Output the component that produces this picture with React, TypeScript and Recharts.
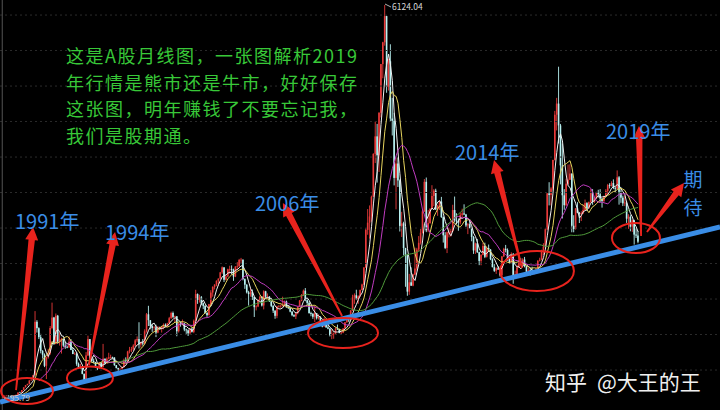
import { ComposedChart, Bar, Line, XAxis, YAxis, ReferenceLine, ReferenceDot } from "recharts";

// SSE composite, monthly, Dec 1990 .. Dec 2018 (index 0 = Dec 1990)
const FIRST_OPEN = 96.05;

const CLOSE = [
  127.6,
  129.9, 133, 120, 113.9, 114.8, 137.6, 145, 180.9, 180.7, 218, 259.6, 292.8,
  313, 365, 378, 445, 1265, 1167, 1030, 820, 760, 590, 720, 780,
  1170, 1330, 926, 1358, 960, 1000, 1000, 900, 880, 870, 960, 833,
  770, 776, 620, 560, 580, 467, 333, 750, 1000, 700, 666, 648,
  563, 550, 640, 570, 700, 630, 700, 720, 720, 717, 600, 555,
  537, 540, 570, 680, 660, 810, 830, 845, 900, 980, 1000, 917,
  950, 930, 1120, 1380, 1290, 1200, 1170, 1180, 1100, 1180, 1160, 1194,
  1220, 1200, 1240, 1320, 1400, 1340, 1350, 1120, 1240, 1220, 1240, 1146,
  1135, 1090, 1160, 1110, 1280, 1690, 1600, 1640, 1550, 1510, 1400, 1367,
  1535, 1714, 1800, 1836, 1894, 1928, 2023, 2100, 1910, 1961, 2070, 2073,
  2066, 1959, 2112, 2119, 2214, 2218, 1920, 1834, 1717, 1690, 1720, 1646,
  1490, 1500, 1600, 1650, 1515, 1732, 1650, 1650, 1580, 1509, 1437, 1357,
  1500, 1510, 1511, 1520, 1576, 1487, 1476, 1421, 1367, 1348, 1397, 1497,
  1590, 1675, 1741, 1595, 1555, 1399, 1386, 1342, 1396, 1320, 1340, 1266,
  1191, 1306, 1181, 1159, 1060, 1080, 1083, 1162, 1155, 1092, 1099, 1161,
  1258, 1299, 1298, 1440, 1641, 1672, 1612, 1658, 1752, 1837, 2099, 2675,
  2786, 2881, 3183, 3841, 4109, 3820, 4471, 5218, 5552, 5954, 4871, 5261,
  4383, 4348, 3472, 3693, 3433, 2736, 2775, 2397, 2293, 1728, 1871, 1820,
  1990, 2082, 2373, 2477, 2632, 2959, 3412, 2667, 2779, 2995, 3195, 3277,
  2989, 3051, 3109, 2870, 2592, 2398, 2638, 2638, 2655, 2979, 2820, 2808,
  2790, 2905, 2928, 2911, 2743, 2762, 2701, 2567, 2359, 2468, 2333, 2199,
  2292, 2428, 2262, 2396, 2372, 2225, 2103, 2047, 2086, 2068, 1980, 2269,
  2385, 2365, 2236, 2177, 2300, 1979, 1994, 2098, 2174, 2141, 2220, 2116,
  2033, 2056, 2033, 2026, 2039, 2048, 2201, 2217, 2364, 2420, 2683, 3235,
  3210, 3310, 3748, 4441, 4612, 4277, 3664, 3206, 3053, 3383, 3445, 3539,
  2738, 2688, 3004, 2938, 2917, 2930, 2979, 3085, 3005, 3100, 3250, 3104,
  3159, 3242, 3223, 3155, 3117, 3192, 3273, 3361, 3349, 3393, 3317, 3307,
  3481, 3259, 3169, 3082, 3095, 2847, 2876, 2725, 2821, 2603, 2588, 2494,
];

const HIGH = [
  127.6,
  135, 134.9, 134, 120, 115, 137.6, 146, 181, 191, 218, 260, 292.8,
  313, 368, 380, 450, 1429, 1290, 1180, 1080, 830, 780, 730, 850,
  1200, 1559, 1340, 1392, 1370, 1100, 1020, 1000, 960, 900, 1040, 1000,
  870, 800, 800, 640, 620, 590, 470, 800, 1052, 1000, 740, 700,
  650, 570, 650, 640, 926, 700, 720, 790, 760, 730, 720, 600,
  560, 560, 580, 700, 720, 820, 880, 880, 920, 1000, 1040, 1258,
  960, 1000, 1150, 1400, 1510, 1290, 1230, 1200, 1220, 1200, 1190, 1200,
  1240, 1240, 1250, 1340, 1420, 1422, 1360, 1350, 1260, 1260, 1300, 1250,
  1160, 1150, 1170, 1180, 1300, 1756, 1700, 1680, 1660, 1560, 1520, 1420,
  1540, 1750, 1810, 1840, 1900, 1930, 2030, 2114, 2100, 1980, 2080, 2125,
  2130, 2080, 2120, 2180, 2230, 2245, 2220, 1930, 1840, 1740, 1780, 1760,
  1650, 1520, 1610, 1670, 1660, 1748, 1740, 1700, 1660, 1580, 1520, 1440,
  1510, 1520, 1530, 1650, 1590, 1590, 1520, 1480, 1430, 1380, 1400, 1500,
  1600, 1690, 1760, 1783, 1610, 1580, 1420, 1400, 1510, 1400, 1380, 1350,
  1270, 1330, 1310, 1250, 1170, 1150, 1100, 1180, 1223, 1160, 1110, 1170,
  1260, 1300, 1310, 1445, 1680, 1700, 1757, 1670, 1760, 1850, 2100, 2700,
  2994, 3050, 3200, 3850, 4335, 4300, 4480, 5220, 5560, 6124, 5960, 5300,
  5522, 4700, 4470, 3786, 3786, 3450, 2952, 2800, 2400, 2300, 2000, 2100,
  2000, 2402, 2400, 2580, 2690, 2980, 3455, 3478, 2980, 3010, 3360, 3300,
  3306, 3060, 3120, 3181, 2880, 2640, 2650, 2710, 2690, 3060, 3186, 2930,
  2850, 2940, 3000, 3067, 2920, 2780, 2830, 2710, 2580, 2480, 2536, 2340,
  2300, 2478, 2478, 2420, 2450, 2380, 2240, 2150, 2100, 2120, 2090, 2270,
  2400, 2444, 2390, 2260, 2330, 2320, 2050, 2140, 2270, 2240, 2240, 2260,
  2120, 2100, 2100, 2110, 2060, 2090, 2210, 2248, 2370, 2470, 2700, 3240,
  3406, 3330, 3750, 4500, 4700, 5178, 4300, 4000, 3300, 3460, 3678, 3680,
  3540, 2900, 3010, 3100, 2950, 2960, 3060, 3140, 3100, 3110, 3300, 3300,
  3180, 3260, 3290, 3300, 3160, 3200, 3300, 3380, 3390, 3420, 3450, 3340,
  3587, 3500, 3330, 3200, 3200, 3120, 2915, 2900, 2830, 2830, 2700, 2660,
];

const LOW = [
  95.8,
  127, 129, 120, 113.5, 105, 110, 135, 144, 178, 180, 218, 259,
  292, 312, 364, 376, 440, 1100, 1000, 781, 700, 570, 387, 700,
  760, 1150, 910, 920, 930, 900, 777, 880, 850, 860, 870, 830,
  770, 760, 590, 540, 540, 460, 326, 330, 740, 680, 640, 630,
  560, 524, 540, 560, 570, 610, 620, 690, 700, 700, 590, 550,
  512, 530, 530, 560, 640, 650, 780, 800, 820, 880, 950, 855,
  870, 900, 920, 1100, 1200, 1150, 1110, 1130, 1030, 1090, 1140, 1100,
  1150, 1180, 1190, 1230, 1310, 1320, 1260, 1043, 1100, 1190, 1210, 1120,
  1080, 1047, 1070, 1100, 1090, 1270, 1540, 1560, 1520, 1460, 1390, 1341,
  1361, 1520, 1650, 1760, 1810, 1820, 1920, 2000, 1875, 1900, 1950, 2000,
  1990, 1893, 1950, 2060, 2100, 2150, 1900, 1770, 1700, 1514, 1650, 1600,
  1339, 1440, 1490, 1580, 1500, 1455, 1620, 1620, 1570, 1490, 1400, 1311,
  1320, 1480, 1480, 1500, 1500, 1480, 1460, 1410, 1350, 1340, 1307, 1380,
  1490, 1580, 1660, 1580, 1520, 1390, 1350, 1310, 1260, 1300, 1300, 1260,
  1180, 1190, 1170, 1150, 1040, 998, 1005, 1080, 1140, 1090, 1070, 1090,
  1160, 1250, 1260, 1290, 1430, 1540, 1600, 1540, 1650, 1750, 1830, 2090,
  2600, 2541, 2800, 3180, 3700, 3400, 3563, 4400, 5000, 5500, 4778, 4812,
  4330, 4123, 3357, 2990, 3333, 2650, 2566, 2284, 1802, 1664, 1678, 1814,
  1810, 1980, 2050, 2350, 2450, 2620, 2950, 2640, 2640, 2770, 2990, 3040,
  2980, 2890, 2980, 2860, 2480, 2380, 2319, 2560, 2570, 2650, 2790, 2760,
  2661, 2760, 2860, 2900, 2720, 2610, 2700, 2500, 2307, 2307, 2320, 2134,
  2132, 2285, 2242, 2250, 2340, 2210, 2100, 2030, 2000, 2060, 1959, 1949,
  2260, 2330, 2200, 2160, 2170, 1849, 1950, 1990, 2090, 2130, 2100, 2100,
  1984, 2020, 1974, 2010, 1991, 2000, 2040, 2190, 2210, 2290, 2400, 2670,
  3050, 3050, 3280, 3740, 4200, 4000, 3373, 2850, 2983, 3040, 3370, 3440,
  2638, 2638, 2680, 2930, 2780, 2810, 2920, 2970, 2970, 3000, 3090, 3060,
  3090, 3150, 3170, 3100, 3016, 3100, 3180, 3220, 3310, 3340, 3300, 3250,
  3300, 3062, 3090, 3040, 3040, 2782, 2691, 2653, 2644, 2449, 2550, 2470,
];

const MA_PERIODS = [5, 10, 20, 60];
const MA_COLORS = ["#f0f0f0", "#e6d45e", "#c03cc0", "#4f9a3a"];

const GRID_VALUES = [525, 1070, 1614, 2159, 2703, 3248, 3792, 4337, 4881, 5426, 5970];

// annotations in data space (month index, index level)
const TREND = [{ x: -1.6, y: 35 }, { x: 379.4, y: 2719 }];
const ARROWS = [
  { tail: { x: 6.9, y: 218 }, head: { x: 15.9, y: 2719 } },
  { tail: { x: 45.5, y: 602 }, head: { x: 59.3, y: 2642 } },
  { tail: { x: 179.4, y: 1354 }, head: { x: 148.1, y: 3087 } },
  { tail: { x: 274.6, y: 2090 }, head: { x: 259.8, y: 3747 } },
  { tail: { x: 337.6, y: 2581 }, head: { x: 336.5, y: 4268 } },
  { tail: { x: 340.7, y: 2642 }, head: { x: 360.3, y: 3394 } },
];
const RINGS = [
  { x: 12.7, y: 203 },
  { x: 46, y: 403 },
  { x: 179.9, y: 1093 },
  { x: 282.5, y: 2044 },
  { x: 334.9, y: 2550 },
];
const RING_RADII = [[26, 13], [23, 11.5], [35, 15], [37, 20], [24, 15]];

const UP = "#e83a3a";
const DOWN = "#b8f2f2";
const RED = "#e8231d";
const BLUE = "#3a8de6";
const FONT = '"Noto Sans CJK SC", "Noto Sans", sans-serif';

const movingAvg = (n: number) =>
  CLOSE.map((_, i) => {
    if (i < n - 1) return null;
    let s = 0;
    for (let k = i - n + 1; k <= i; k++) s += CLOSE[k];
    return s / n;
  });

const MAS = MA_PERIODS.map(movingAvg);

const data = CLOSE.map((close, i) => {
  const row: any = {
    i,
    open: i === 0 ? FIRST_OPEN : CLOSE[i - 1],
    close,
    high: HIGH[i],
    low: LOW[i],
    range: [LOW[i], HIGH[i]],
  };
  MA_PERIODS.forEach((n, k) => (row["ma" + n] = MAS[k][i]));
  return row;
});

function Candle(props: any) {
  const { x, y, width, height, payload } = props;
  if (!payload) return null;
  const top = Math.min(y, y + height);
  const bot = Math.max(y, y + height);
  const span = payload.high - payload.low;
  const k = span > 0 ? (bot - top) / span : 0;
  const cx = x + width / 2;
  const yo = top + (payload.high - payload.open) * k;
  const yc = top + (payload.high - payload.close) * k;
  const color = payload.close >= payload.open ? UP : DOWN;
  return (
    <g>
      <line x1={cx} x2={cx} y1={top} y2={bot} stroke={color} strokeWidth={0.9} />
      <rect x={cx - 0.8} y={Math.min(yo, yc)} width={1.6} height={Math.max(Math.abs(yc - yo), 0.7)} fill={color} />
    </g>
  );
}

function arrowShape(p: any) {
  const { x1, y1, x2, y2 } = p;
  const dx = x2 - x1, dy = y2 - y1;
  const len = Math.hypot(dx, dy) || 1;
  const ux = dx / len, uy = dy / len, nx = -uy, ny = ux;
  const headLen = 13, headW = 6.5, shaftW = 3.2, tailW = 0.9;
  const bx = x2 - ux * headLen, by = y2 - uy * headLen;
  const pts = [
    [x1 + nx * tailW, y1 + ny * tailW],
    [bx + nx * shaftW, by + ny * shaftW],
    [bx + nx * headW, by + ny * headW],
    [x2, y2],
    [bx - nx * headW, by - ny * headW],
    [bx - nx * shaftW, by - ny * shaftW],
    [x1 - nx * tailW, y1 - ny * tailW],
  ];
  return <polygon points={pts.map((q) => q.join(",")).join(" ")} fill={RED} />;
}

const ringShape = (rx: number, ry: number) => (p: any) =>
  <ellipse cx={p.cx} cy={p.cy} rx={rx} ry={ry} fill="none" stroke={RED} strokeWidth={2} />;

const NOTE = [
  "这是A股月线图，一张图解析2019",
  "年行情是熊市还是牛市，好好保存",
  "这张图，明年赚钱了不要忘记我，",
  "我们是股期通。",
];

const YEAR_LABELS = [
  { t: "1991年", x: 15, y: 229, s: 20 },
  { t: "1994年", x: 105, y: 240, s: 20 },
  { t: "2006年", x: 255, y: 211, s: 20 },
  { t: "2014年", x: 455, y: 160, s: 20 },
  { t: "2019年", x: 606, y: 139, s: 20 },
  { t: "期", x: 683.5, y: 187, s: 19 },
  { t: "待", x: 683.5, y: 215, s: 19 },
];

export default function App() {
  return (
    <div style={{ position: "absolute", left: 0, top: 0, width: 720, height: 410, background: "#000", overflow: "hidden" }}>
      <ComposedChart width={720} height={410} data={data} margin={{ top: 0, right: 0, bottom: 0, left: 0 }}>
        <XAxis hide type="number" dataKey="i" domain={[-1.587, 379.36]} allowDataOverflow />
        <YAxis hide type="number" domain={[-88, 6201]} allowDataOverflow />
        {GRID_VALUES.map((v) => (
          <ReferenceLine key={v} y={v} stroke="#2a2a2a" strokeDasharray="2 3" />
        ))}
        <ReferenceLine x={-0.4} stroke="#555" />
        <Bar dataKey="range" barSize={2} isAnimationActive={false} shape={(p: any) => <Candle {...p} />} />
        {MA_PERIODS.map((n, k) => (
          <Line
            key={n}
            dataKey={"ma" + n}
            stroke={MA_COLORS[k]}
            strokeWidth={1}
            dot={false}
            activeDot={false}
            isAnimationActive={false}
          />
        ))}
        <ReferenceLine segment={TREND} ifOverflow="visible" stroke={BLUE} strokeWidth={5} />
        {RINGS.map((r, k) => (
          <ReferenceDot key={k} x={r.x} y={r.y} ifOverflow="visible" shape={ringShape(RING_RADII[k][0], RING_RADII[k][1])} />
        ))}
        {ARROWS.map((a, k) => (
          <ReferenceLine key={k} segment={[a.tail, a.head]} ifOverflow="visible" shape={arrowShape} />
        ))}
      </ComposedChart>
      <svg width={720} height={410} style={{ position: "absolute", left: 0, top: 0, pointerEvents: "none" }}>
        <g fontFamily={FONT}>
          {NOTE.map((line, k) => (
            <text key={k} x={66} y={63 + k * 26.5} fontSize={18} letterSpacing={1.5} fill="#38c838">
              {line}
            </text>
          ))}
          {YEAR_LABELS.map((l) => (
            <text key={l.t} x={l.x} y={l.y} fontSize={l.s} fill={BLUE}>
              {l.t}
            </text>
          ))}
          <text x={545} y={390} fontSize={21} fill="#f0f0f0">知乎</text>
          <text x={597} y={390} fontSize={21} fill="#f0f0f0">@大王的王</text>
          <line x1={385} y1={4} x2={391} y2={7} stroke="#ddd" strokeWidth={0.8} />
          <text x={392} y={10} fontSize={8.5} fill="#d8d8d8">6124.04</text>
          <line x1={4} y1={398} x2={9} y2={398} stroke="#ccc" strokeWidth={0.8} />
          <text x={10} y={401} fontSize={8} fill="#cfcfcf">95.79</text>
        </g>
      </svg>
    </div>
  );
}
